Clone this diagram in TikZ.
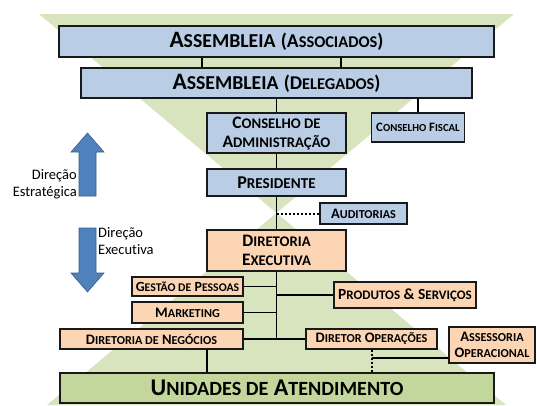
\documentclass[tikz,border=0pt]{standalone}
\usepackage{fontspec}
\setmainfont{Carlito}[Ligatures=NoCommon]
\newfontfamily\scfont[Scale=0.84,Ligatures=NoCommon]{Carlito}
\newcommand{\sk}[2]{#1{\scfont #2}}
\usetikzlibrary{positioning}
\definecolor{govblue}{HTML}{B9CDE5}
\definecolor{exeorange}{HTML}{FCD5B5}
\definecolor{basegreen}{HTML}{C3D69B}
\definecolor{trigreen}{HTML}{D7E4BD}
\definecolor{arrowblue}{HTML}{4F81BD}
\definecolor{arrowedge}{HTML}{385D8A}

\begin{document}
\begin{tikzpicture}[%
    x=1pt, y=-1pt,
    box/.style={draw=black!90, line width=1.3pt, inner sep=1pt, align=center, font=\bfseries},
    govbox/.style={box, fill=govblue},
    exebox/.style={box, fill=exeorange},
    basebox/.style={box, fill=basegreen},
    link/.style={line width=1.3pt},
    dots/.style={line width=2pt, dash pattern=on 2pt off 2pt},
    bigarrow/.style={fill=arrowblue, draw=arrowedge, line width=0.6pt},
    side/.style={font=\fontsize{14.5}{17}\selectfont}
  ]
    \useasboundingbox (0,0) rectangle (537,405);

    % background triangles
    \fill[trigreen] (39,14) -- (514,14) -- (276.5,213) -- cycle;
    \fill[trigreen] (276.5,213) -- (506,405) -- (47,405) -- cycle;

    % boxes
    \node[govbox, minimum width=435pt, minimum height=31pt] (assoc) at (276.5,41.5)
      {\fontsize{23.5}{25}\selectfont\sk{A}{SSEMBLEIA} {\fontsize{19.5}{21}\selectfont(\sk{A}{SSOCIADOS})}};
    \node[govbox, minimum width=391pt, minimum height=30pt] (deleg) at (276.5,83)
      {\fontsize{23.5}{25}\selectfont\sk{A}{SSEMBLEIA} {\fontsize{19.5}{21}\selectfont(\sk{D}{ELEGADOS})}};
    \node[govbox, minimum width=139pt, minimum height=40pt, font=\fontsize{17.5}{19}\selectfont\bfseries] (consAdm) at (276.5,133)
      {\sk{C}{ONSELHO DE}\\\sk{A}{DMINISTRAÇÃO}};
    \node[govbox, minimum width=93pt, minimum height=29pt, font=\fontsize{12.8}{15}\selectfont\bfseries] (fiscal) at (418,127.5)
      {\sk{C}{ONSELHO} \sk{F}{ISCAL}};
    \node[govbox, minimum width=139pt, minimum height=27pt, font=\fontsize{18}{19}\selectfont\bfseries] (pres) at (276.5,182.5)
      {\sk{P}{RESIDENTE}};
    \node[govbox, minimum width=87pt, minimum height=21pt, font=\fontsize{14.5}{16}\selectfont\bfseries] (audit) at (363.5,213.5)
      {\sk{A}{UDITORIAS}};
    \node[exebox, minimum width=139pt, minimum height=41pt, font=\fontsize{17.5}{19}\selectfont\bfseries] (dirEx) at (276.5,250.5)
      {\sk{D}{IRETORIA}\\\sk{E}{XECUTIVA}};
    \node[exebox, minimum width=111pt, minimum height=19pt, font=\fontsize{14}{16}\selectfont\bfseries] (gestao) at (187.5,286.5)
      {\sk{G}{ESTÃO DE} \sk{P}{ESSOAS}};
    \node[exebox, minimum width=111pt, minimum height=21pt, font=\fontsize{14.5}{16}\selectfont\bfseries] (mkt) at (187.5,312.5)
      {\sk{M}{ARKETING}};
    \node[exebox, minimum width=142pt, minimum height=26pt, font=\fontsize{15.5}{17}\selectfont\bfseries] (produtos) at (405,295)
      {\sk{P}{RODUTOS} \& \sk{S}{ERVIÇOS}};
    \node[exebox, minimum width=183pt, minimum height=20pt, font=\fontsize{14.5}{16}\selectfont\bfseries] (dirNeg) at (151.5,339)
      {\sk{D}{IRETORIA DE} \sk{N}{EGÓCIOS}};
    \node[exebox, minimum width=131pt, minimum height=20pt, font=\fontsize{14.5}{16}\selectfont\bfseries] (dirOp) at (371.5,339)
      {\sk{D}{IRETOR} \sk{O}{PERAÇÕES}};
    \node[exebox, minimum width=86pt, minimum height=36pt, font=\fontsize{14.5}{16.5}\selectfont\bfseries] (assess) at (492,345)
      {\sk{A}{SSESSORIA}\\\sk{O}{PERACIONAL}};
    \node[basebox, minimum width=434pt, minimum height=30pt, font=\fontsize{24}{26}\selectfont\bfseries] (unid) at (277,388)
      {\sk{U}{NIDADES DE} \sk{A}{TENDIMENTO}};

    % connectors
    \draw[link] ([xshift=-74.5pt]assoc.south) -- ([xshift=-74.5pt]deleg.north);
    \draw[link] ([xshift=64.5pt]assoc.south) -- ([xshift=64.5pt]deleg.north);
    \draw[link] (deleg.south) -- (consAdm.north);
    \draw[link] (deleg.south -| fiscal.north) -- (fiscal.north);
    \draw[link] (consAdm.south) -- (pres.north);
    \draw[link] (pres.south) -- (dirEx.north);
    \draw[dots] (pres.south |- audit.west) -- (audit.west);
    \draw[link] (dirEx.south) -- (dirEx.south |- dirNeg.east);
    \draw[link] (gestao.east) -- (gestao.east -| dirEx.south);
    \draw[link] (mkt.east) -- (mkt.east -| dirEx.south);
    \draw[link] (produtos.west) -- (produtos.west -| dirEx.south);
    \draw[link] (dirNeg.east) -- (dirOp.west);
    \draw[link] ([xshift=55.5pt]dirNeg.south) -- ([xshift=55.5pt]dirNeg.south |- unid.north);
    \draw[dots] (dirOp.south) -- (dirOp.south |- unid.north);
    \draw[link] ([yshift=-13pt]assess.west) -- ([yshift=-13pt]assess.west -| dirOp.south);

    % direction arrows
    \filldraw[bigarrow] (79,196) -- (79,152) -- (71,152) -- (87.5,133) -- (104,152) -- (96,152) -- (96,196) -- cycle;
    \filldraw[bigarrow] (79,228) -- (79,273) -- (71,273) -- (87.5,292) -- (104,273) -- (96,273) -- (96,228) -- cycle;
    \node[side, anchor=east, align=right, inner sep=0pt] (strat) at (77,184) {Direção\\Estratégica};
    \node[side, anchor=west, align=left, inner sep=0pt] (exec) at (98,241) {Direção\\Executiva};
\end{tikzpicture}
\end{document}
